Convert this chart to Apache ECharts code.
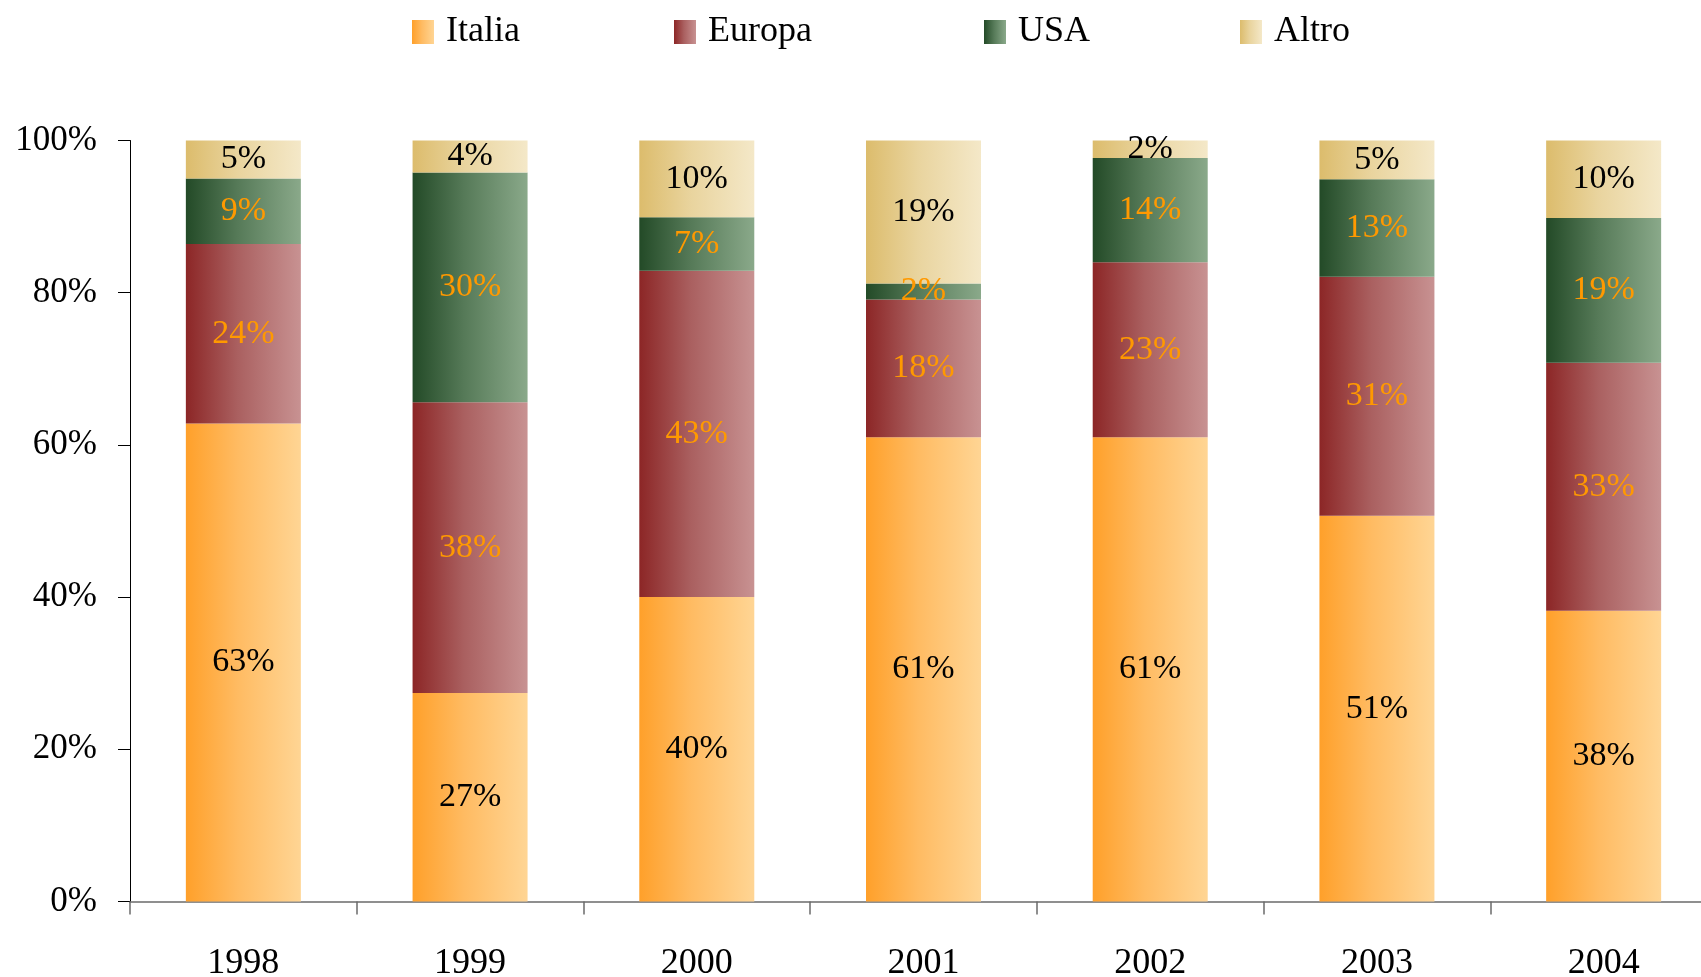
<!DOCTYPE html>
<html>
<head>
<meta charset="utf-8">
<script src="https://cdn.jsdelivr.net/npm/echarts@6/dist/echarts.min.js"></script>
<style>
html,body{margin:0;padding:0;background:#fff;overflow:hidden;width:1701px;height:977px;}
#chart{width:1718px;height:977px;}
</style>
</head>
<body>
<div id="chart"></div>
<script>
var years = ['1998','1999','2000','2001','2002','2003','2004'];
var italia = [62.8, 27.4, 40.0, 61.0, 61.0, 50.7, 38.2];
var europa = [23.6, 38.2, 42.9, 18.1, 23.0, 31.4, 32.6];
var usa    = [8.6, 30.2, 7.0, 2.1, 13.7, 12.8, 19.0];
var altro  = [5.0, 4.2, 10.1, 18.8, 2.3, 5.1, 10.2];
var yTicks = [0, 20, 40, 60, 80, 100];

var FONT = '"Liberation Serif", "DejaVu Serif", serif';
function grad(c1, c2, c3) {
  return new echarts.graphic.LinearGradient(0, 0, 1, 0, [
    {offset: 0, color: c1}, {offset: 0.45, color: c2}, {offset: 1, color: c3}
  ]);
}
var styles = {
  Italia: {color: grad('#ffa02a', '#ffbb62', '#ffd594'), label: '#000000'},
  Europa: {color: grad('#8c2626', '#aa6060', '#c89292'), label: '#ff9900'},
  USA:    {color: grad('#234a27', '#567a58', '#8aa98a'), label: '#ff9900'},
  Altro:  {color: grad('#dcbc6c', '#e9d49e', '#f4e8c8'), label: '#000000'}
};
function mkSeries(name, data) {
  return {
    name: name, type: 'bar', stack: 'total', data: data,
    barWidth: 115,
    itemStyle: {color: styles[name].color},
    label: {
      show: true, position: 'inside',
      formatter: function (p) { return Math.round(p.value) + '%'; },
      color: styles[name].label, fontFamily: FONT, fontSize: 34
    },
    emphasis: {disabled: true}
  };
}
function mkLegend(name, left) {
  return {
    data: [name], left: left, top: 14, icon: 'rect', padding: 0,
    itemWidth: 22, itemHeight: 24,
    textStyle: {fontFamily: FONT, fontSize: 36, color: '#000', padding: [0, 0, 0, 7]},
    selectedMode: false
  };
}
var chart = echarts.init(document.getElementById('chart'));
chart.setOption({
  backgroundColor: '#ffffff',
  animation: false,
  legend: [mkLegend('Italia', 412), mkLegend('Europa', 674), mkLegend('USA', 984), mkLegend('Altro', 1240)],
  grid: {left: 130, right: 1, top: 140.5, bottom: 75.5, containLabel: false, outerBoundsMode: 'none'},
  xAxis: {
    type: 'category', data: years,
    axisLine: {lineStyle: {color: '#6b6b6b', width: 1.5}},
    axisTick: {show: true, length: 13, lineStyle: {color: '#6b6b6b', width: 1.5}},
    axisLabel: {fontFamily: FONT, fontSize: 36, color: '#000', margin: 44}
  },
  yAxis: {
    type: 'value', min: yTicks[0], max: yTicks[yTicks.length - 1], interval: 20,
    splitLine: {show: false},
    axisLine: {show: true, lineStyle: {color: '#000', width: 1}},
    axisTick: {show: true, length: 12, lineStyle: {color: '#000'}},
    axisLabel: {formatter: '{value}%', fontFamily: FONT, fontSize: 35, color: '#000', margin: 33}
  },
  series: [
    mkSeries('Italia', italia),
    mkSeries('Europa', europa),
    mkSeries('USA', usa),
    mkSeries('Altro', altro)
  ]
});
</script>
</body>
</html>
